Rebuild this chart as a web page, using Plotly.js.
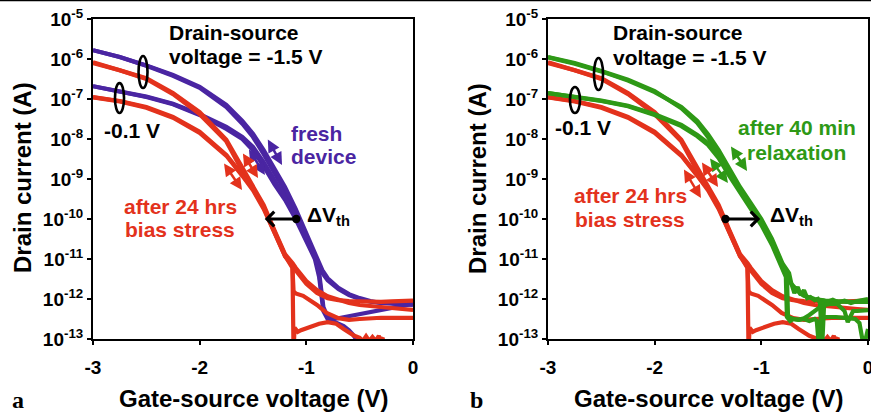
<!DOCTYPE html>
<html><head><meta charset="utf-8">
<script src="https://cdn.plot.ly/plotly-3.0.1.min.js"></script>
<style>html,body{margin:0;padding:0;background:#fff}#chart{width:871px;height:413px}</style>
</head><body><div id="chart"></div>
<script>
// ---------- tick labels ----------
const xTickVals = [-3, -2, -1, 0];
const xTickText = ['-3', '-2', '-1', '0'];
const yTickVals = [1e-13, 1e-12, 1e-11, 1e-10, 1e-9, 1e-8, 1e-7, 1e-6, 1e-5];
const yTickText = ['10<sup>-13</sup>', '10<sup>-12</sup>', '10<sup>-11</sup>', '10<sup>-10</sup>', '10<sup>-9</sup>',
                   '10<sup>-8</sup>', '10<sup>-7</sup>', '10<sup>-6</sup>', '10<sup>-5</sup>'];

// ---------- fresh device (panel a), Vds = -1.5 V, two sweeps ----------
const vgFreshHigh = [-3,-2.75,-2.5,-2.25,-2,-1.75,-1.6,-1.5,-1.4,-1.3,-1.2,-1.1,-1.0,-0.9,-0.85,-0.8,-0.7,-0.6,-0.5,-0.4,-0.3,-0.2,-0.1,0];
const idFreshHigh1 = [1.66e-6,1.12e-6,6.76e-7,3.80e-7,1.91e-7,6.31e-8,2.40e-8,1.12e-8,4.17e-9,1.51e-9,5.01e-10,1.41e-10,3.55e-11,7.94e-12,4.47e-12,2.95e-12,1.78e-12,1.26e-12,1.00e-12,8.51e-13,7.94e-13,7.94e-13,8.32e-13,8.91e-13];
const idFreshHigh2 = [1.66e-6,1.12e-6,6.92e-7,3.98e-7,2.00e-7,7.08e-8,2.82e-8,1.35e-8,5.25e-9,1.91e-9,6.31e-10,1.78e-10,4.47e-11,1.00e-11,5.25e-12,3.31e-12,1.91e-12,1.32e-12,1.05e-12,8.91e-13,7.94e-13,7.59e-13,7.41e-13,7.08e-13];
// ---------- fresh device, Vds = -0.1 V ----------
const vgFreshLow1 = [-3,-2.75,-2.5,-2.25,-2,-1.75,-1.6,-1.5,-1.4,-1.3,-1.2,-1.1,-1.0,-0.92,-0.88,-0.86,-0.84,-0.8,-0.75,-0.7,-0.65,-0.6,-0.56,-0.53,-0.5];
const idFreshLow1 = [2.09e-7,1.51e-7,1.12e-7,7.41e-8,3.98e-8,1.78e-8,1.00e-8,5.25e-9,2.09e-9,7.41e-10,3.02e-10,1.00e-10,2.82e-11,1.00e-11,3.55e-12,1.26e-12,5.01e-13,3.16e-13,2.82e-13,2.40e-13,2.09e-13,1.66e-13,1.26e-13,1.00e-13,7.08e-14];
const vgFreshLow2 = [-3,-2.75,-2.5,-2.25,-2,-1.75,-1.6,-1.5,-1.4,-1.3,-1.2,-1.1,-1.0,-0.92,-0.88,-0.86,-0.84,-0.8,-0.75,-0.7,-0.6,-0.5,-0.4,-0.3,-0.2,-0.1,0];
const idFreshLow2 = [2.09e-7,1.58e-7,1.15e-7,7.59e-8,4.17e-8,2.00e-8,1.12e-8,6.31e-9,2.63e-9,9.55e-10,3.55e-10,1.20e-10,3.55e-11,1.20e-11,4.47e-12,1.58e-12,6.31e-13,3.55e-13,3.16e-13,3.31e-13,3.72e-13,4.17e-13,4.68e-13,5.25e-13,5.89e-13,6.61e-13,7.59e-13];

// ---------- after 24 hrs bias stress (both panels), Vds = -1.5 V ----------
const vgStressHigh = [-3,-2.75,-2.5,-2.25,-2,-1.75,-1.6,-1.5,-1.4,-1.3,-1.2,-1.13,-1.1,-1.0,-0.9,-0.8,-0.7,-0.6,-0.5,-0.4,-0.3,-0.2,-0.1,0];
const idStressHigh1 = [8.32e-7,5.37e-7,3.31e-7,1.41e-7,4.68e-8,9.55e-9,1.91e-9,7.08e-10,2.24e-10,5.25e-11,1.32e-11,7.94e-12,6.03e-12,2.82e-12,1.66e-12,1.17e-12,9.55e-13,7.94e-13,7.08e-13,6.61e-13,6.31e-13,6.03e-13,5.62e-13,5.37e-13];
const idStressHigh2 = [7.94e-7,5.25e-7,3.16e-7,1.32e-7,4.17e-8,8.71e-9,1.58e-9,6.03e-10,1.91e-10,4.47e-11,1.17e-11,7.08e-12,5.25e-12,2.40e-12,1.41e-12,1.05e-12,9.33e-13,8.91e-13,8.71e-13,8.51e-13,8.51e-13,8.71e-13,8.91e-13,9.12e-13];
// ---------- after 24 hrs bias stress, Vds = -0.1 V ----------
const vgStressLow1 = [-3,-2.75,-2.5,-2.25,-2,-1.75,-1.6,-1.5,-1.4,-1.3,-1.2,-1.13,-1.125,-1.12,-1.11,-1.08,-1.05,-1.0,-0.95,-0.88,-0.8,-0.72,-0.65,-0.6,-0.55,-0.5,-0.47,-0.44,-0.41,-0.38,-0.35,-0.32,-0.3,-0.28];
const idStressLow1 = [1.12e-7,8.91e-8,6.31e-8,3.55e-8,1.51e-8,3.98e-9,1.26e-9,5.62e-10,2.00e-10,5.01e-11,1.26e-11,6.31e-12,5.01e-13,5.01e-14,1.91e-13,1.51e-13,1.66e-13,1.86e-13,2.09e-13,2.40e-13,2.63e-13,2.40e-13,1.78e-13,1.41e-13,1.20e-13,1.07e-13,8.91e-14,1.17e-13,8.91e-14,1.12e-13,8.91e-14,1.20e-13,7.94e-14,1.12e-13];
const vgStressLow2 = [-3,-2.75,-2.5,-2.25,-2,-1.75,-1.6,-1.5,-1.4,-1.3,-1.2,-1.13,-1.125,-1.12,-1.1,-1.03,-0.9,-0.81,-0.7,-0.6,-0.5,-0.4,-0.3,-0.2,-0.1,0];
const idStressLow2 = [1.10e-7,8.71e-8,6.03e-8,3.39e-8,1.41e-8,3.80e-9,1.20e-9,5.25e-10,1.78e-10,4.68e-11,1.20e-11,6.03e-12,3.16e-12,1.58e-12,1.38e-12,1.20e-12,7.08e-13,4.47e-13,3.31e-13,3.02e-13,3.16e-13,3.31e-13,3.39e-13,3.39e-13,3.39e-13,3.39e-13];

// ---------- after 40 min relaxation (panel b), Vds = -1.5 V ----------
const vgRelaxHigh1 = [-3,-2.75,-2.5,-2.25,-2,-1.75,-1.6,-1.5,-1.4,-1.3,-1.2,-1.1,-1.0,-0.9,-0.8,-0.76,-0.72,-0.68,-0.64,-0.6,-0.55,-0.5,-0.4,-0.3,-0.2,-0.1,0];
const idRelaxHigh1 = [1.12e-6,7.94e-7,5.01e-7,3.02e-7,1.58e-7,5.89e-8,2.51e-8,1.12e-8,4.47e-9,1.51e-9,5.62e-10,2.24e-10,8.91e-11,2.82e-11,6.31e-12,3.55e-12,2.40e-12,1.78e-12,1.41e-12,1.20e-12,1.07e-12,1.00e-12,9.12e-13,8.71e-13,8.51e-13,8.51e-13,8.51e-13];
const vgRelaxHigh2 = [-3,-2.75,-2.5,-2.25,-2,-1.75,-1.6,-1.5,-1.4,-1.3,-1.2,-1.1,-1.0,-0.9,-0.8,-0.74,-0.72,-0.69,-0.66,-0.63,-0.6,-0.57,-0.54,-0.5,-0.47,-0.45,-0.43,-0.41,-0.38,-0.33,-0.28,-0.22,-0.16,-0.1,-0.05,0];
const idRelaxHigh2 = [1.10e-6,7.59e-7,4.90e-7,2.88e-7,1.48e-7,6.31e-8,2.82e-8,1.32e-8,5.25e-9,1.78e-9,6.31e-10,2.51e-10,1.00e-10,3.16e-11,7.59e-12,4.47e-12,2.51e-12,1.41e-12,2.00e-12,1.26e-12,1.66e-12,1.05e-12,1.12e-12,9.33e-13,1.00e-12,7.94e-13,6.31e-14,8.91e-13,8.51e-13,9.55e-13,8.32e-13,9.12e-13,7.94e-13,8.91e-13,9.33e-13,1.00e-12];
// ---------- after 40 min relaxation, Vds = -0.1 V ----------
const vgRelaxLow1 = [-3,-2.75,-2.5,-2.25,-2,-1.75,-1.6,-1.5,-1.4,-1.3,-1.2,-1.1,-1.0,-0.9,-0.8,-0.77,-0.765,-0.76,-0.73,-0.7,-0.65,-0.6,-0.55,-0.5,-0.45,-0.4,-0.35,-0.29,-0.22,-0.19,-0.14,-0.1,-0.05,0];
const idRelaxLow1 = [1.41e-7,1.12e-7,8.91e-8,6.61e-8,3.98e-8,2.09e-8,1.17e-8,7.08e-9,3.31e-9,1.20e-9,4.68e-10,1.78e-10,7.08e-11,2.24e-11,5.62e-12,3.55e-12,1.00e-12,3.55e-13,2.82e-13,3.16e-13,3.02e-13,3.31e-13,3.98e-13,5.01e-13,6.31e-13,7.08e-13,7.59e-13,7.59e-13,5.01e-13,2.63e-13,5.01e-13,5.01e-13,5.25e-13,5.25e-13];
const vgRelaxLow2 = [-3,-2.75,-2.5,-2.25,-2,-1.75,-1.6,-1.5,-1.4,-1.3,-1.2,-1.1,-1.0,-0.9,-0.8,-0.76,-0.755,-0.75,-0.7,-0.65,-0.6,-0.55,-0.5,-0.48,-0.46,-0.44,-0.4,-0.3,-0.2,-0.12,-0.08,-0.04,0];
const idRelaxLow2 = [1.41e-7,1.15e-7,9.12e-8,6.76e-8,4.17e-8,2.24e-8,1.26e-8,7.94e-9,3.80e-9,1.41e-9,5.25e-10,2.00e-10,7.94e-11,2.51e-11,6.31e-12,3.98e-12,1.26e-12,3.55e-13,3.16e-13,3.02e-13,3.16e-13,2.82e-13,3.16e-13,2.82e-13,6.31e-14,3.16e-13,3.55e-13,3.55e-13,3.31e-13,3.16e-13,2.51e-13,6.31e-14,1.78e-13];

// ---------- styling ----------
const PURPLE = '#4a25a2', RED = '#e3321c', GREEN = '#2e9916';
const SANS = 'Liberation Sans, Arial, sans-serif';
const LW = 4.2;

function curve(x, y, color, xa, ya) {
  return {x: x, y: y, type: 'scatter', mode: 'lines', xaxis: xa, yaxis: ya,
          line: {color: color, width: LW}, hoverinfo: 'skip', showlegend: false};
}

const traces = [
  curve(vgFreshHigh, idFreshHigh1, PURPLE, 'x', 'y'),
  curve(vgFreshHigh, idFreshHigh2, PURPLE, 'x', 'y'),
  curve(vgFreshLow1, idFreshLow1, PURPLE, 'x', 'y'),
  curve(vgFreshLow2, idFreshLow2, PURPLE, 'x', 'y'),
  curve(vgStressHigh, idStressHigh1, RED, 'x', 'y'),
  curve(vgStressHigh, idStressHigh2, RED, 'x', 'y'),
  curve(vgStressLow1, idStressLow1, RED, 'x', 'y'),
  curve(vgStressLow2, idStressLow2, RED, 'x', 'y'),

  curve(vgStressHigh, idStressHigh1, RED, 'x2', 'y2'),
  curve(vgStressHigh, idStressHigh2, RED, 'x2', 'y2'),
  curve(vgStressLow1, idStressLow1, RED, 'x2', 'y2'),
  curve(vgStressLow2, idStressLow2, RED, 'x2', 'y2'),
  curve(vgRelaxHigh1, idRelaxHigh1, GREEN, 'x2', 'y2'),
  curve(vgRelaxHigh2, idRelaxHigh2, GREEN, 'x2', 'y2'),
  curve(vgRelaxLow1, idRelaxLow1, GREEN, 'x2', 'y2'),
  curve(vgRelaxLow2, idRelaxLow2, GREEN, 'x2', 'y2')
];

const tickFont = {family: SANS, size: 19, color: '#000', weight: 700};
function xAxis(domain, anchor) {
  return {domain: domain, anchor: anchor, range: [-3, 0], tickmode: 'array',
          tickvals: xTickVals, ticktext: xTickText, ticks: 'outside', ticklen: 4, tickwidth: 2,
          tickcolor: '#000', showline: true, linewidth: 2, linecolor: '#000', mirror: true,
          showgrid: false, zeroline: false, tickfont: tickFont, ticklabelstandoff: 6,
          ticklabeloverflow: 'allow', fixedrange: true};
}
function yAxis(anchor) {
  return {domain: [0.1792, 0.954], anchor: anchor, type: 'log', range: [-13, -5], tickmode: 'array',
          tickvals: yTickVals, ticktext: yTickText, ticks: 'outside', ticklen: 4, tickwidth: 2,
          tickcolor: '#000', showline: true, linewidth: 2, linecolor: '#000', mirror: true,
          showgrid: false, zeroline: false, tickfont: tickFont, ticklabeloverflow: 'allow', fixedrange: true};
}

const annFont = (c) => ({family: SANS, size: 21, color: c, weight: 700});
function label(text, x, y, xa, ya, color, xanchor) {
  return {text: text, x: x, y: y, xref: xa, yref: ya, showarrow: false, font: annFont(color),
          xanchor: xanchor || 'left', yanchor: 'middle', align: 'left'};
}
function dblArrow(x0, y0, x1, y1, xa, ya, color) {
  return {text: '', x: x1, y: y1, ax: x0, ay: y0, xref: xa, yref: ya, axref: xa, ayref: ya,
          showarrow: true, arrowside: 'end+start', arrowhead: 2, startarrowhead: 2,
          arrowsize: 1, startarrowsize: 1, arrowwidth: 2.5, arrowcolor: color};
}
function shiftArrow(xTail, xHead, yLog, xa, ya) {
  return {text: '', x: xHead, y: yLog, ax: xTail, ay: yLog, xref: xa, yref: ya, axref: xa, ayref: ya,
          showarrow: true, arrowside: 'end+start', arrowhead: 4, startarrowhead: 6,
          arrowsize: 1, startarrowsize: 0.75, arrowwidth: 2.8, arrowcolor: '#000'};
}
function paperText(text, x, y, font, angle) {
  return {text: text, x: x, y: y, xref: 'paper', yref: 'paper', xanchor: 'center', yanchor: 'middle',
          textangle: angle || 0, showarrow: false, font: font};
}

const titleFont = {family: SANS, size: 24, color: '#000', weight: 700};
const letterFont = {family: 'Liberation Serif, Times New Roman, serif', size: 24, color: '#000', weight: 700};
const annotations = [
  // axis titles
  paperText('Drain current (A)', 0.0253, 0.569, titleFont, -90),
  paperText('Drain current (A)', 0.5476, 0.569, titleFont, -90),
  paperText('Gate-source voltage (V)', 0.2905, 0.0363, titleFont),
  paperText('Gate-source voltage (V)', 0.814, 0.0363, titleFont),
  // panel letters
  paperText('a', 0.0207, 0.032, letterFont),
  paperText('b', 0.5465, 0.032, letterFont),

  // panel a labels
  label('Drain-source', -2.306, -5.35, 'x', 'y', '#000'),
  label('voltage = -1.5 V', -2.306, -5.95, 'x', 'y', '#000'),
  label('-0.1 V', -2.916, -7.8, 'x', 'y', '#000'),
  label('fresh', -1.1625, -7.875, 'x', 'y', PURPLE),
  label('device', -1.1625, -8.45, 'x', 'y', PURPLE),
  label('after 24 hrs', -2.184, -9.7, 'x', 'y', RED, 'center'),
  label('bias stress', -2.184, -10.275, 'x', 'y', RED, 'center'),
  label('\u0394V<sub>th</sub>', -1.0125, -9.925, 'x', 'y', '#000'),
  shiftArrow(-1.08, -1.39, -10, 'x', 'y'),
  dblArrow(-1.369, -7.975, -1.228, -8.65, 'x', 'y', PURPLE),
  dblArrow(-1.547, -8.225, -1.388, -8.9, 'x', 'y', PURPLE),
  dblArrow(-1.781, -8.575, -1.603, -9.275, 'x', 'y', RED),
  dblArrow(-1.603, -8.325, -1.453, -8.975, 'x', 'y', RED),

  // panel b labels
  label('Drain-source', -2.41, -5.35, 'x2', 'y2', '#000'),
  label('voltage = -1.5 V', -2.41, -5.975, 'x2', 'y2', '#000'),
  label('-0.1 V', -2.953, -7.725, 'x2', 'y2', '#000'),
  label('after 40 min', -0.666, -7.725, 'x2', 'y2', GREEN, 'center'),
  label('relaxation', -0.666, -8.35, 'x2', 'y2', GREEN, 'center'),
  label('after 24 hrs', -2.231, -9.425, 'x2', 'y2', RED, 'center'),
  label('bias stress', -2.231, -10.025, 'x2', 'y2', RED, 'center'),
  label('\u0394V<sub>th</sub>', -0.9375, -9.925, 'x2', 'y2', '#000'),
  shiftArrow(-1.35, -1.01, -10, 'x2', 'y2'),
  dblArrow(-1.294, -8.15, -1.134, -8.8, 'x2', 'y2', GREEN),
  dblArrow(-1.491, -8.45, -1.313, -9.1, 'x2', 'y2', GREEN),
  dblArrow(-1.734, -8.725, -1.566, -9.475, 'x2', 'y2', RED),
  dblArrow(-1.566, -8.55, -1.406, -9.2, 'x2', 'y2', RED)
];

const ellipse = (x0, x1, y0, y1, xa, ya) => ({type: 'circle', xref: xa, yref: ya, x0: x0, x1: x1, y0: y0, y1: y1,
  line: {color: '#000', width: 2.6}, fillcolor: 'rgba(0,0,0,0)'});
const shapes = [
  {type: 'line', xref: 'paper', yref: 'paper', x0: 0, x1: 1, y0: 1, y1: 1, line: {color: '#000', width: 2.5}},
  ellipse(-2.573, -2.489, 1.19e-6, 1.88e-7, 'x', 'y'),
  ellipse(-2.794, -2.709, 2.5e-7, 4.47e-8, 'x', 'y'),
  ellipse(-2.569, -2.484, 1.06e-6, 1.68e-7, 'x2', 'y2'),
  ellipse(-2.794, -2.700, 2.0e-7, 4.47e-8, 'x2', 'y2')
];

const layout = {
  width: 871, height: 413, margin: {l: 0, r: 0, t: 0, b: 0},
  paper_bgcolor: '#fff', plot_bgcolor: '#fff', showlegend: false,
  font: {family: SANS, color: '#000'},
  xaxis: xAxis([0.10677, 0.47417], 'y'),
  yaxis: yAxis('x'),
  xaxis2: xAxis([0.62916, 0.99656], 'y2'),
  yaxis2: yAxis('x2'),
  annotations: annotations,
  shapes: shapes
};

Plotly.newPlot('chart', traces, layout, {staticPlot: true, displayModeBar: false});
</script></body></html>
